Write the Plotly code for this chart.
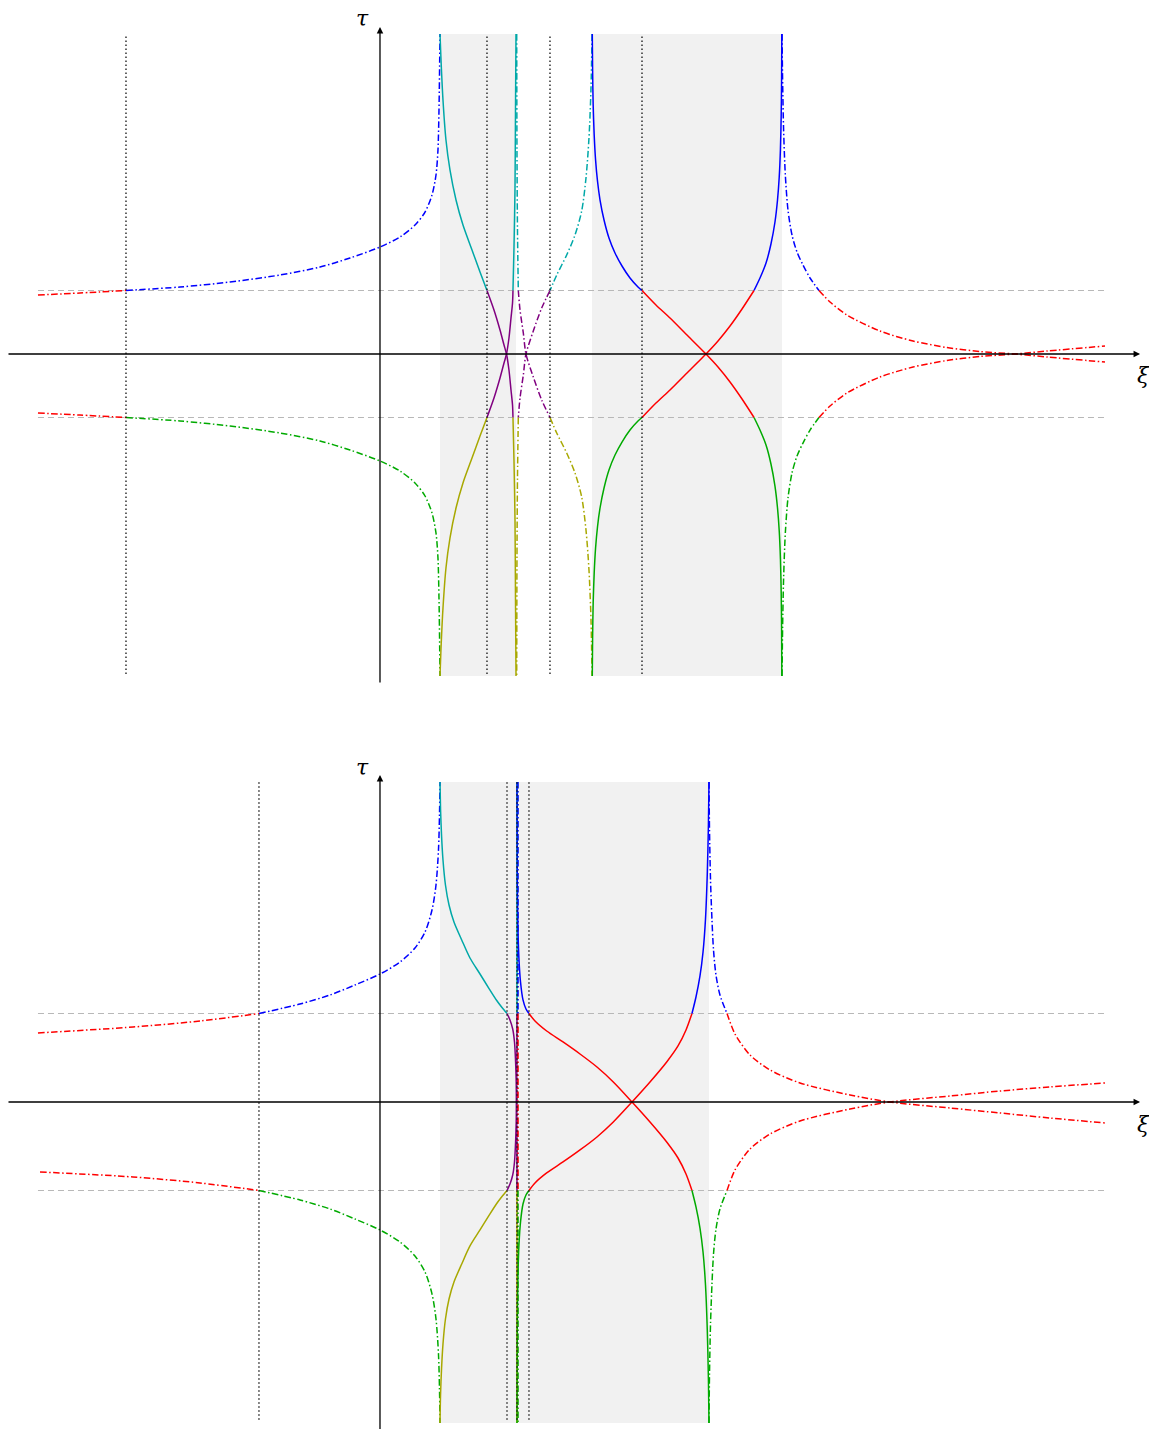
import plotly.graph_objects as go

# ---------------------------------------------------------------------------
# Dispersion branches tau(xi).  Upper panel first, then lower panel.
# Each branch is a list of (xi, tau) samples; colour changes where |tau| = 1.
# ---------------------------------------------------------------------------

# ---- upper panel ----
top_ul_xi = [-5.386, -4.724, -4.0, -3.150, -2.362, -1.575, -0.945, -0.472, 0.0,
             0.315, 0.551, 0.709, 0.819, 0.882, 0.913, 0.929, 0.940, 0.945]
top_ul_tau = [0.929, 0.961, 1.0, 1.055, 1.134, 1.244, 1.370, 1.512, 1.685,
              1.843, 2.031, 2.236, 2.504, 2.819, 3.213, 3.843, 4.630, 5.039]

top_ll_xi = [-5.386, -4.724, -4.0, -3.150, -2.362, -1.575, -0.945, -0.472, 0.0,
             0.315, 0.551, 0.709, 0.819, 0.882, 0.913, 0.929, 0.940, 0.945]
top_ll_tau = [-0.929, -0.961, -1.0, -1.055, -1.134, -1.244, -1.370, -1.512, -1.685,
              -1.843, -2.031, -2.236, -2.504, -2.819, -3.213, -3.843, -4.630, -5.071]

top_c1_xi = [0.945, 0.961, 0.992, 1.039, 1.102, 1.197, 1.307, 1.449, 1.575, 1.685,
             1.795, 1.890, 1.953, 1.992, 2.031, 2.063, 2.087, 2.094, 2.110, 2.126,
             2.134, 2.142]
top_c1_tau = [5.039, 4.630, 4.0, 3.370, 2.898, 2.425, 2.031, 1.638, 1.291, 1.0,
              0.693, 0.378, 0.142, 0.0, -0.252, -0.567, -0.803, -1.0, -1.669, -2.614,
              -3.874, -5.071]

top_c2_xi = [2.142, 2.134, 2.126, 2.110, 2.094, 2.087, 2.063, 2.031, 1.992, 1.953,
             1.890, 1.795, 1.685, 1.575, 1.449, 1.307, 1.197, 1.102, 1.039, 0.992,
             0.961, 0.945]
top_c2_tau = [5.039, 3.874, 2.614, 1.669, 1.0, 0.803, 0.567, 0.252, 0.0, -0.142,
              -0.378, -0.693, -1.0, -1.291, -1.638, -2.031, -2.425, -2.898, -3.370, -4.0,
              -4.630, -5.071]

top_d1_xi = [2.153, 2.157, 2.165, 2.178, 2.205, 2.257, 2.299, 2.414, 2.546, 2.677,
             2.783, 2.940, 3.071, 3.176, 3.244, 3.291, 3.323, 3.339]
top_d1_tau = [5.039, 3.213, 1.953, 1.0, 0.693, 0.331, 0.0, -0.362, -0.724, -1.0,
              -1.244, -1.559, -1.874, -2.252, -2.772, -3.402, -4.189, -5.071]

top_d2_xi = [3.339, 3.323, 3.291, 3.244, 3.176, 3.071, 2.940, 2.783, 2.677, 2.546,
             2.414, 2.299, 2.257, 2.205, 2.178, 2.165, 2.157, 2.153]
top_d2_tau = [5.039, 4.189, 3.402, 2.772, 2.252, 1.874, 1.559, 1.244, 1.0, 0.724,
              0.362, 0.0, -0.331, -0.693, -1.0, -1.953, -3.213, -5.071]

top_e1_xi = [3.343, 3.348, 3.357, 3.373, 3.395, 3.425, 3.465, 3.528, 3.606, 3.701,
             3.811, 3.937, 4.063, 4.126, 4.346, 4.567, 4.850, 5.134, 5.323, 5.512,
             5.701, 5.890, 5.984, 6.079, 6.157, 6.220, 6.260, 6.287, 6.306, 6.318,
             6.324, 6.328]
top_e1_tau = [5.039, 4.472, 3.921, 3.449, 3.055, 2.724, 2.425, 2.110, 1.827, 1.591,
              1.386, 1.197, 1.055, 1.0, 0.772, 0.567, 0.283, 0.0, -0.205, -0.441,
              -0.709, -1.0, -1.197, -1.433, -1.732, -2.079, -2.425, -2.787, -3.228, -3.764,
              -4.299, -5.071]

top_e2_xi = [3.343, 3.348, 3.357, 3.373, 3.395, 3.425, 3.465, 3.528, 3.606, 3.701,
             3.811, 3.937, 4.063, 4.126, 4.346, 4.567, 4.850, 5.134, 5.323, 5.512,
             5.701, 5.890, 5.984, 6.079, 6.157, 6.220, 6.260, 6.287, 6.306, 6.318,
             6.324, 6.328]
top_e2_tau = [-5.071, -4.472, -3.921, -3.449, -3.055, -2.724, -2.425, -2.110, -1.827, -1.591,
              -1.386, -1.197, -1.055, -1.0, -0.772, -0.567, -0.283, 0.0, 0.205, 0.441,
              0.709, 1.0, 1.197, 1.433, 1.732, 2.079, 2.425, 2.787, 3.228, 3.764,
              4.299, 5.039]

top_f1_xi = [6.331, 6.340, 6.356, 6.383, 6.425, 6.488, 6.567, 6.661, 6.772, 6.913,
             7.087, 7.354, 7.874, 8.394, 8.929, 9.449, 10.0, 10.504, 11.417]
top_f1_tau = [5.039, 4.315, 3.528, 2.819, 2.268, 1.874, 1.606, 1.402, 1.197, 1.0,
              0.819, 0.614, 0.362, 0.205, 0.102, 0.039, 0.0, -0.047, -0.126]

top_f2_xi = [6.331, 6.340, 6.356, 6.383, 6.425, 6.488, 6.567, 6.661, 6.772, 6.913,
             7.087, 7.354, 7.874, 8.394, 8.929, 9.449, 10.0, 10.504, 11.417]
top_f2_tau = [-5.071, -4.315, -3.528, -2.819, -2.268, -1.874, -1.606, -1.402, -1.197, -1.0,
              -0.819, -0.614, -0.362, -0.205, -0.102, -0.039, 0.0, 0.047, 0.126]

top_dotted_xi = [-4.0, 1.685, 2.677, 4.126]
top_bands = [(0.945, 2.142), (3.339, 6.331)]

# ---- lower panel ----
bot_ul_xi = [-5.386, -3.890, -2.835, -1.906, -1.260, -0.787, -0.394, 0.0, 0.315,
             0.551, 0.709, 0.819, 0.882, 0.921, 0.937, 0.945]
bot_ul_tau = [0.780, 0.847, 0.915, 1.0, 1.107, 1.209, 1.322, 1.446, 1.582,
              1.740, 1.921, 2.169, 2.452, 2.847, 3.243, 3.616]

bot_ll_xi = [-5.354, -3.890, -2.835, -1.906, -1.260, -0.787, -0.394, 0.0, 0.315,
             0.551, 0.709, 0.819, 0.882, 0.921, 0.937, 0.945]
bot_ll_tau = [-0.791, -0.847, -0.915, -1.0, -1.107, -1.209, -1.322, -1.446, -1.582,
              -1.740, -1.921, -2.169, -2.452, -2.847, -3.243, -3.627]

bot_c1_xi = [0.945, 0.954, 0.969, 0.992, 1.031, 1.087, 1.165, 1.287, 1.417, 1.575,
             1.717, 1.838, 1.921, 2.0, 2.047, 2.090, 2.118, 2.134, 2.145, 2.150,
             2.154, 2.157, 2.157, 2.157]
bot_c1_tau = [3.616, 3.299, 3.017, 2.734, 2.452, 2.226, 2.034, 1.831, 1.627, 1.446,
              1.282, 1.147, 1.068, 1.0, 0.927, 0.825, 0.678, 0.475, 0.226, 0.0,
              -0.260, -0.599, -1.0, -3.627]

bot_c2_xi = [2.157, 2.157, 2.157, 2.154, 2.150, 2.145, 2.134, 2.118, 2.090, 2.047,
             2.0, 1.921, 1.838, 1.717, 1.575, 1.417, 1.287, 1.165, 1.087, 1.031,
             0.992, 0.969, 0.954, 0.945]
bot_c2_tau = [3.616, 1.0, 0.599, 0.260, 0.0, -0.226, -0.475, -0.678, -0.825, -0.927,
              -1.0, -1.068, -1.147, -1.282, -1.446, -1.627, -1.831, -2.034, -2.226, -2.452,
              -2.734, -3.017, -3.299, -3.627]

bot_d1_xi = [2.165, 2.165, 2.165, 2.165]
bot_d1_tau = [3.616, 1.0, -1.0, -3.627]
bot_d2_xi = [2.173, 2.173, 2.173, 2.173]
bot_d2_tau = [3.616, 1.0, -1.0, -3.627]

bot_e1_xi = [2.157, 2.162, 2.173, 2.189, 2.213, 2.252, 2.299, 2.346, 2.441, 2.625,
             2.882, 3.150, 3.417, 3.674, 3.969, 4.252, 4.515, 4.693, 4.819, 4.913,
             4.976, 5.039, 5.087, 5.126, 5.154, 5.172, 5.181]
bot_e1_tau = [3.616, 2.508, 1.944, 1.605, 1.356, 1.153, 1.051, 1.0, 0.915, 0.802,
              0.678, 0.542, 0.395, 0.226, 0.0, -0.226, -0.452, -0.633, -0.814, -1.0,
              -1.186, -1.424, -1.695, -2.068, -2.576, -3.141, -3.627]

bot_e2_xi = [2.157, 2.162, 2.173, 2.189, 2.213, 2.252, 2.299, 2.346, 2.441, 2.625,
             2.882, 3.150, 3.417, 3.674, 3.969, 4.252, 4.515, 4.693, 4.819, 4.913,
             4.976, 5.039, 5.087, 5.126, 5.154, 5.172, 5.181]
bot_e2_tau = [-3.627, -2.508, -1.944, -1.605, -1.356, -1.153, -1.051, -1.0, -0.915, -0.802,
              -0.678, -0.542, -0.395, -0.226, 0.0, 0.226, 0.452, 0.633, 0.814, 1.0,
              1.186, 1.424, 1.695, 2.068, 2.576, 3.141, 3.616]

bot_f1_xi = [5.181, 5.189, 5.205, 5.228, 5.252, 5.291, 5.354, 5.465, 5.591, 5.827,
             6.142, 6.614, 7.402, 8.031, 8.976, 9.764, 10.551, 11.417]
bot_f1_tau = [3.616, 3.073, 2.508, 2.056, 1.718, 1.435, 1.209, 1.0, 0.768, 0.531,
              0.362, 0.215, 0.079, 0.0, -0.068, -0.124, -0.181, -0.237]

bot_f2_xi = [5.181, 5.189, 5.205, 5.228, 5.252, 5.291, 5.354, 5.465, 5.591, 5.827,
             6.142, 6.614, 7.402, 8.031, 8.976, 9.764, 10.551, 11.417]
bot_f2_tau = [-3.627, -3.073, -2.508, -2.056, -1.718, -1.435, -1.209, -1.0, -0.768, -0.531,
              -0.362, -0.215, -0.079, 0.0, 0.068, 0.124, 0.170, 0.215]

bot_dotted_xi = [-1.906, 2.0, 2.157, 2.346]
bot_bands = [(0.945, 5.181)]

level_tau = [-1.0, 1.0]
level_xi_span = (-5.386, 11.417)

# panel, xi, tau, colour family, dashed?
curves = [
    (1, top_ul_xi, top_ul_tau, "rbg", True),
    (1, top_ll_xi, top_ll_tau, "rbg", True),
    (1, top_d1_xi, top_d1_tau, "pco", True),
    (1, top_d2_xi, top_d2_tau, "pco", True),
    (1, top_f1_xi, top_f1_tau, "rbg", True),
    (1, top_f2_xi, top_f2_tau, "rbg", True),
    (1, top_c1_xi, top_c1_tau, "pco", False),
    (1, top_c2_xi, top_c2_tau, "pco", False),
    (1, top_e1_xi, top_e1_tau, "rbg", False),
    (1, top_e2_xi, top_e2_tau, "rbg", False),
    (2, bot_ul_xi, bot_ul_tau, "rbg", True),
    (2, bot_ll_xi, bot_ll_tau, "rbg", True),
    (2, bot_f1_xi, bot_f1_tau, "rbg", True),
    (2, bot_f2_xi, bot_f2_tau, "rbg", True),
    (2, bot_c1_xi, bot_c1_tau, "pco", False),
    (2, bot_c2_xi, bot_c2_tau, "pco", False),
    (2, bot_e1_xi, bot_e1_tau, "rbg", False),
    (2, bot_e2_xi, bot_e2_tau, "rbg", False),
    (2, bot_d1_xi, bot_d1_tau, "pco", True),
    (2, bot_d2_xi, bot_d2_tau, "rbg", True),
]

COLORS = {
    "rbg": {"mid": "#ff0000", "up": "#0000ff", "down": "#00aa00"},
    "pco": {"mid": "#800080", "up": "#00a8a8", "down": "#a8a800"},
}
DASHDOT = "6.5px,2.5px,1.5px,2.5px"


def split_bands(xi, tau):
    """Cut a branch into pieces lying above, inside and below |tau| <= 1."""
    pieces = []
    for i in range(len(xi) - 1):
        m = 0.5 * (tau[i] + tau[i + 1])
        band = "up" if m > 1 else ("down" if m < -1 else "mid")
        if not pieces or pieces[-1][0] != band:
            pieces.append((band, [xi[i]], [tau[i]]))
        pieces[-1][1].append(xi[i + 1])
        pieces[-1][2].append(tau[i + 1])
    return pieces


fig = go.Figure()
AX = {1: ("x", "y"), 2: ("x2", "y2")}

for panel, xi, tau, fam, dashed in curves:
    xa, ya = AX[panel]
    for band, px, pt in split_bands(xi, tau):
        fig.add_trace(go.Scatter(
            x=px, y=pt, mode="lines", xaxis=xa, yaxis=ya,
            line=dict(color=COLORS[fam][band], width=1.5,
                      dash=DASHDOT if dashed else "solid",
                      shape="spline", smoothing=0.8),
            hoverinfo="skip", showlegend=False))

shapes = []
panel_tau = {1: (-5.071, 5.039), 2: (-3.627, 3.616)}
bands_by_panel = {1: top_bands, 2: bot_bands}
dotted_by_panel = {1: top_dotted_xi, 2: bot_dotted_xi}
dotted_tau = {1: (-5.039, 5.039), 2: (-3.59, 3.616)}

for p in (1, 2):
    xa, ya = AX[p]
    lo, hi = panel_tau[p]
    for a, b in bands_by_panel[p]:
        shapes.append(dict(type="rect", xref=xa, yref=ya, x0=a, x1=b, y0=lo, y1=hi,
                           fillcolor="#f1f1f1", line=dict(width=0), layer="below"))
    for t in level_tau:
        shapes.append(dict(type="line", xref=xa, yref=ya,
                           x0=level_xi_span[0], x1=level_xi_span[1], y0=t, y1=t,
                           line=dict(color="#b8b8b8", width=1.2, dash="6px,4px"),
                           layer="below"))
    dlo, dhi = dotted_tau[p]
    for xv in dotted_by_panel[p]:
        shapes.append(dict(type="line", xref=xa, yref=ya, x0=xv, x1=xv, y0=dlo, y1=dhi,
                           line=dict(color="#111111", width=1.3, dash="1.4px,2.6px"),
                           layer="above"))

# axes with arrow heads and their labels
axis_spec = {
    1: dict(xi_from=-5.874, xi_to=11.969, tau_from=-5.197, tau_to=5.150,
            tau_lab=(-0.283, 5.291), xi_lab=(12.031, -0.346)),
    2: dict(xi_from=-5.874, xi_to=11.969, tau_from=-3.75, tau_to=3.695,
            tau_lab=(-0.283, 3.774), xi_lab=(12.031, -0.260)),
}
annotations = []
for p, s in axis_spec.items():
    xa, ya = AX[p]
    annotations.append(dict(x=s["xi_to"], y=0, ax=s["xi_from"], ay=0, xref=xa, yref=ya,
                            axref=xa, ayref=ya, text="", showarrow=True, arrowhead=2,
                            arrowsize=1.0, arrowwidth=1.3, arrowcolor="black", standoff=0))
    annotations.append(dict(x=0, y=s["tau_to"], ax=0, ay=s["tau_from"], xref=xa, yref=ya,
                            axref=xa, ayref=ya, text="", showarrow=True, arrowhead=2,
                            arrowsize=1.0, arrowwidth=1.3, arrowcolor="black", standoff=0))
    annotations.append(dict(x=s["tau_lab"][0], y=s["tau_lab"][1], xref=xa, yref=ya,
                            text="<i>τ</i>", showarrow=False,
                            font=dict(family="DejaVu Serif", size=22, color="black")))
    annotations.append(dict(x=s["xi_lab"][0], y=s["xi_lab"][1], xref=xa, yref=ya,
                            text="<i>ξ</i>", showarrow=False,
                            font=dict(family="DejaVu Serif", size=22, color="black")))

XR = [-5.984, 12.110]
fig.update_layout(
    width=1149, height=1429,
    margin=dict(l=0, r=0, t=0, b=0),
    paper_bgcolor="white", plot_bgcolor="white",
    showlegend=False,
    xaxis=dict(domain=[0, 1], range=XR, visible=False, anchor="y", fixedrange=True),
    yaxis=dict(domain=[0.50035, 1], range=[-5.669, 5.575], visible=False, anchor="x",
               fixedrange=True),
    xaxis2=dict(domain=[0, 1], range=XR, visible=False, anchor="y2", fixedrange=True),
    yaxis2=dict(domain=[0, 0.50035], range=[-3.695, 4.384], visible=False, anchor="x2",
                fixedrange=True),
    shapes=shapes,
    annotations=annotations,
)

fig.write_html("out.html")
